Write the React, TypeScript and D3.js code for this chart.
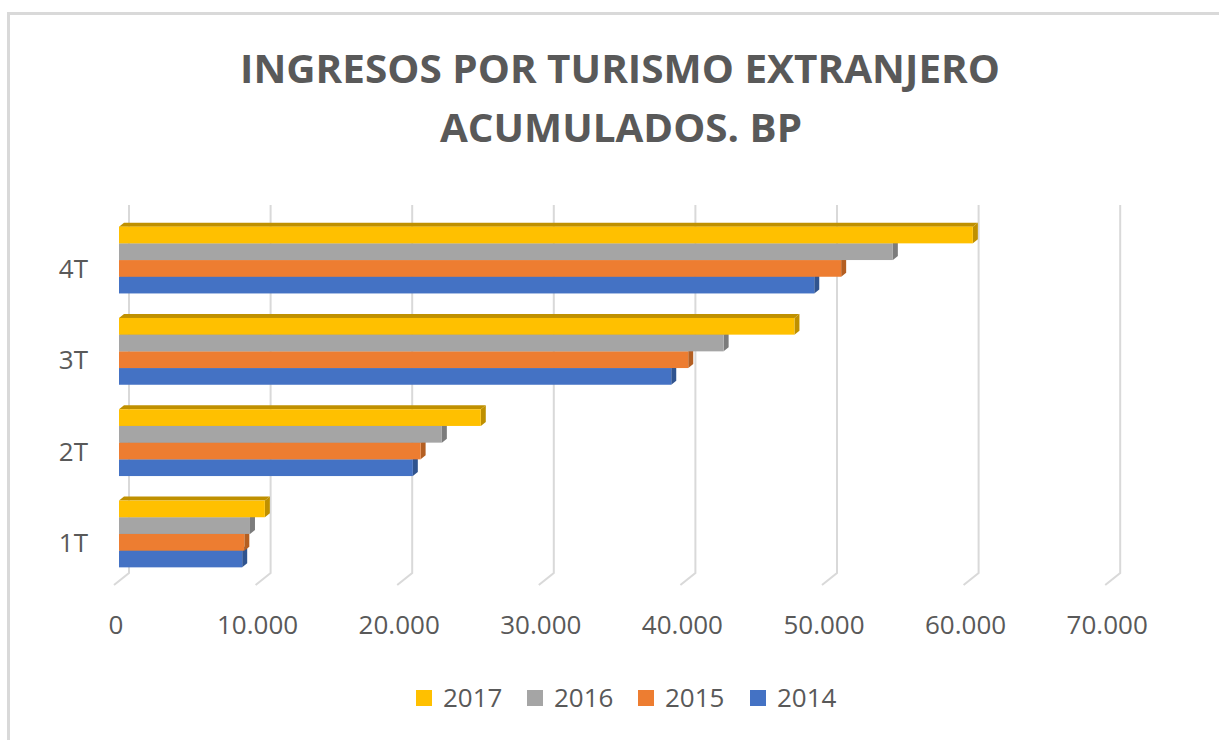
import React from "react";
import * as d3 from "d3";

const categories = ["4T", "3T", "2T", "1T"];
const seriesNames = ["2017", "2016", "2015", "2014"];
const values2017 = [60300, 47700, 25550, 10300];
const values2016 = [54650, 42700, 22800, 9250];
const values2015 = [51000, 40200, 21300, 8850];
const values2014 = [49100, 39000, 20750, 8700];
const tickValues = [0, 10000, 20000, 30000, 40000, 50000, 60000, 70000];
const tickLabels = ["0", "10.000", "20.000", "30.000", "40.000", "50.000", "60.000", "70.000"];
const titleLines = ["INGRESOS POR TURISMO EXTRANJERO", "ACUMULADOS. BP"];

const seriesValues = [values2017, values2016, values2015, values2014];
const fronts = ["#FFC000", "#A5A5A5", "#ED7D31", "#4472C4"];
const sides = ["#BF9000", "#7C7C7C", "#B45F22", "#30548F"];

export default function App() {
  const W = 1219, H = 740;
  const x = d3.scaleLinear().domain([0, 70000]).range([119, 119 + 991.2]);
  const y = d3.scaleBand<string>().domain(categories).range([214.4, 579.6]);
  const inner = d3.scaleBand<string>().domain(seriesNames).range([0, 66.8]);
  const bh = inner.bandwidth();
  const dx = 5, dy = 4;
  const font = "'Open Sans', 'Liberation Sans', sans-serif";
  const textColor = "#595959";

  const bars: React.ReactNode[] = [];
  categories.forEach((c, ci) => {
    const center = (y(c) as number) + y.bandwidth() / 2;
    const top0 = center - 33.4;
    // draw from bottom series up
    for (let si = seriesNames.length - 1; si >= 0; si--) {
      const v = seriesValues[si][ci];
      const x0 = x(0);
      const x1 = x(v);
      const yt = top0 + (inner(seriesNames[si]) as number);
      const yb = yt + bh;
      bars.push(
        <g key={c + si}>
          <polygon
            points={`${x0},${yt} ${x0 + dx},${yt - dy} ${x1 + dx},${yt - dy} ${x1},${yt}`}
            fill={sides[si]}
          />
          <polygon
            points={`${x1},${yt} ${x1 + dx},${yt - dy} ${x1 + dx},${yb - dy} ${x1},${yb}`}
            fill={sides[si]}
          />
          <rect x={x0} y={yt} width={x1 - x0} height={bh} fill={fronts[si]} />
        </g>
      );
    }
  });

  return (
    <svg
      width={W}
      height={H}
      style={{ position: "absolute", left: 0, top: 0, background: "#fff" }}
    >
      <rect x={8.5} y={13.5} width={1240} height={800} fill="#fff" stroke="#d9d9d9" strokeWidth={3} />
      <text
        x={620}
        y={83}
        textAnchor="middle"
        fontFamily={font}
        fontWeight={700}
        fontSize={39}
        fill={textColor}
        textLength={760}
        lengthAdjust="spacingAndGlyphs"
      >
        {titleLines[0]}
      </text>
      <text
        x={621}
        y={142}
        textAnchor="middle"
        fontFamily={font}
        fontWeight={700}
        fontSize={39}
        fill={textColor}
        textLength={362}
        lengthAdjust="spacingAndGlyphs"
      >
        {titleLines[1]}
      </text>
      {tickValues.map((t) => {
        const bx = x(t) + 10;
        return (
          <polyline
            key={"g" + t}
            points={`${bx},205 ${bx},573 ${bx - 15},585`}
            fill="none"
            stroke="#d9d9d9"
            strokeWidth={2}
          />
        );
      })}
      {bars}
      {tickValues.map((t, i) => (
        <text
          key={"t" + t}
          x={x(t) - 3}
          y={634}
          textAnchor="middle"
          fontFamily={font}
          fontSize={26}
          fill={textColor}
        >
          {tickLabels[i]}
        </text>
      ))}
      {categories.map((c) => (
        <text
          key={"c" + c}
          x={88}
          y={(y(c) as number) + y.bandwidth() / 2 + 18}
          textAnchor="end"
          fontFamily={font}
          fontSize={26}
          fill={textColor}
        >
          {c}
        </text>
      ))}
      {seriesNames.map((s, i) => {
        const lx = [416, 527, 638, 750][i];
        return (
          <g key={"l" + s}>
            <rect x={lx} y={690} width={16} height={16} fill={fronts[i]} />
            <text x={lx + 27} y={707} fontFamily={font} fontSize={26} fill={textColor}>
              {s}
            </text>
          </g>
        );
      })}
    </svg>
  );
}
